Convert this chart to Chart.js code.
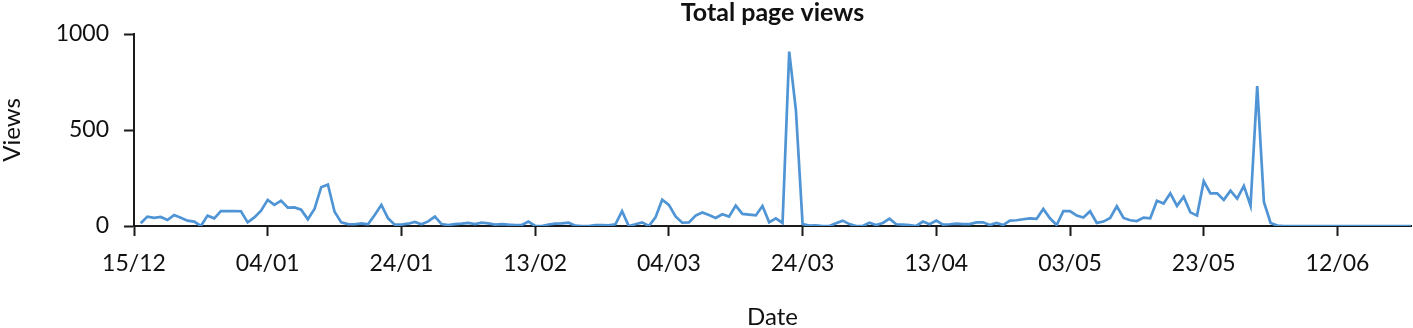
<!DOCTYPE html>
<html>
<head>
<meta charset="utf-8">
<script src="https://cdn.jsdelivr.net/npm/chart.js@4"></script>
<style>
  html, body { margin: 0; padding: 0; background: #fff; }
</style>
</head>
<body>
<canvas id="views-chart" width="1413" height="328"></canvas>
<script>
// x axis runs in days from 15/12, labelled every 20 days
const tickLabels = ['15/12', '04/01', '24/01', '13/02', '04/03', '24/03', '13/04', '03/05', '23/05', '12/06'];
const tickEvery = 20;
const lastDay = 191;

// daily page views, first value is 16/12 (day 1)
const firstDay = 1;
const dailyViews = [
    14, 49, 42, 47, 31, 57, 43, 28, 23, 0,
    54, 40, 78, 77, 78, 77, 19, 45, 80, 136,
    110, 132, 96, 97, 85, 35, 89, 202, 216, 74,
    19, 10, 9, 14, 9, 57, 110, 40, 7, 7,
    12, 21, 9, 24, 49, 10, 5, 10, 12, 16,
    10, 17, 14, 7, 10, 7, 5, 5, 23, 0,
    0, 8, 12, 14, 17, 2, 0, 0, 5, 5,
    3, 9, 77, 0, 9, 19, 0, 45, 137, 110,
    50, 17, 19, 54, 70, 57, 42, 61, 49, 106,
    63, 59, 55, 104, 19, 40, 16, 908, 604, 10,
    2, 3, 0, 0, 14, 28, 10, 0, 0, 17,
    5, 16, 38, 9, 7, 5, 0, 23, 9, 28,
    7, 9, 12, 10, 10, 19, 19, 5, 16, 5,
    28, 30, 35, 40, 37, 89, 40, 5, 77, 77,
    54, 44, 77, 16, 23, 42, 103, 42, 30, 26,
    44, 40, 131, 117, 170, 105, 153, 71, 54, 233,
    170, 170, 136, 184, 143, 209, 106, 729, 125, 16,
    2, 0, 0, 0, 0, 0, 0, 0, 0, 0,
    0, 0, 0, 0, 0, 0, 0, 0, 0, 0,
    0
];

const yTicks = [0, 500, 1000];

const textColor = '#111';
const axisColor = '#1a1a1a';
const fontFamily = 'Lato, "Open Sans", sans-serif';

var points = dailyViews.map(function(v, i) {
    return { x: firstDay + i, y: v };
});

var ctx = document.getElementById('views-chart').getContext('2d');
var viewsChart = new Chart(ctx, {
    type: 'line',
    data: {
        datasets: [{
            label: 'Views',
            data: points,
            borderColor: '#4f94d4',
            borderWidth: 2.7,
            pointRadius: 0,
            tension: 0,
            fill: false
        }]
    },
    options: {
        responsive: false,
        animation: false,
        layout: { padding: { left: 0, right: 2, top: 0, bottom: 0 } },
        plugins: {
            legend: { display: false },
            tooltip: { enabled: false },
            title: {
                display: true,
                text: 'Total page views',
                fullSize: false,
                color: textColor,
                font: { family: fontFamily, size: 25, weight: 'bold', lineHeight: 1 },
                padding: { top: 0, bottom: 9 }
            }
        },
        scales: {
            x: {
                type: 'linear',
                min: 0,
                max: lastDay,
                afterFit: function(scale) { scale.height = 102; },
                afterBuildTicks: function(scale) {
                    scale.ticks = tickLabels.map(function(lbl, i) { return { value: i * tickEvery }; });
                },
                ticks: {
                    color: textColor,
                    font: { family: fontFamily, size: 23 },
                    padding: 14,
                    maxRotation: 0,
                    callback: function(value) {
                        return tickLabels[Math.round(value / tickEvery)];
                    }
                },
                grid: {
                    drawOnChartArea: false,
                    drawTicks: true,
                    tickLength: 10,
                    tickWidth: 2,
                    color: axisColor
                },
                border: { color: axisColor, width: 2 },
                title: {
                    display: true,
                    text: 'Date',
                    color: textColor,
                    font: { family: fontFamily, size: 24, lineHeight: 1 },
                    padding: { top: 0, bottom: -1 }
                }
            },
            y: {
                min: 0,
                max: 1000,
                afterFit: function(scale) { scale.width = 134; },
                afterBuildTicks: function(scale) {
                    scale.ticks = yTicks.map(function(v) { return { value: v }; });
                },
                ticks: {
                    color: textColor,
                    font: { family: fontFamily, size: 23 },
                    padding: 15,
                    callback: function(value) { return String(value); }
                },
                grid: {
                    drawOnChartArea: false,
                    drawTicks: true,
                    tickLength: 10,
                    tickWidth: 2,
                    color: axisColor
                },
                border: { color: axisColor, width: 2 },
                title: {
                    display: true,
                    text: 'Views',
                    color: textColor,
                    font: { family: fontFamily, size: 24, lineHeight: 1 },
                    padding: { top: 0, bottom: 0 }
                }
            }
        }
    }
});
</script>
</body>
</html>
